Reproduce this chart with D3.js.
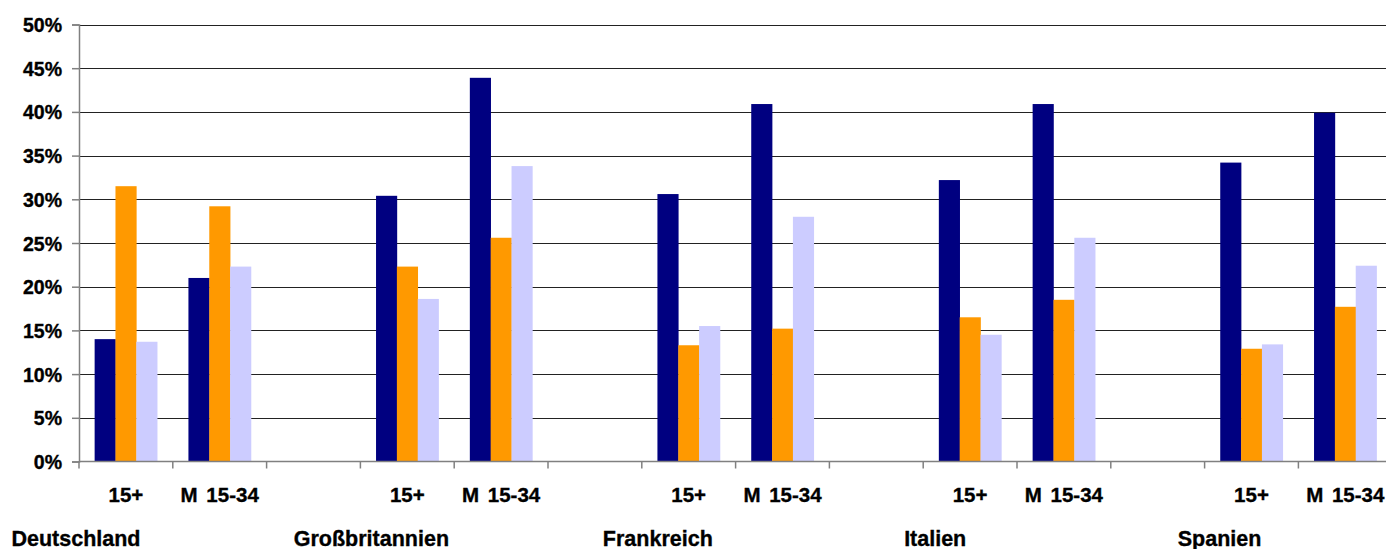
<!DOCTYPE html>
<html>
<head>
<meta charset="utf-8">
<script src="https://cdn.jsdelivr.net/npm/d3@7"></script>
<style>
  html, body { margin: 0; padding: 0; background: #fff; }
  svg { display: block; font-family: "Liberation Sans", Arial, sans-serif; font-weight: bold; }
  svg text { stroke: #000; stroke-width: 0.35px; fill: #000; }
</style>
</head>
<body>
<svg id="chart" width="1386" height="549"></svg>
<script>
// Countries, age groups and the three value series (percent)
const countries = ["Deutschland", "Großbritannien", "Frankreich", "Italien", "Spanien"];
const ageGroups = ["15+", "M 15-34"];
const seriesNames = ["Reihe 1", "Reihe 2", "Reihe 3"];
const seriesNavy     = [14.0, 21.0, 30.4, 43.9, 30.6, 40.9, 32.2, 40.9, 34.2, 39.9];
const seriesOrange   = [31.5, 29.2, 22.3, 25.6, 13.3, 15.2, 16.5, 18.5, 12.9, 17.7];
const seriesLavender = [13.7, 22.3, 18.6, 33.8, 15.5, 28.0, 14.5, 25.6, 13.4, 22.4];
const yTicks = [0, 5, 10, 15, 20, 25, 30, 35, 40, 45, 50];

const colors = ["#000080", "#FF9900", "#CCCCFF"];
const allSeries = [seriesNavy, seriesOrange, seriesLavender];

// Each country takes three slots: its two age groups and one empty spacer
const slots = [];
countries.forEach((c, ci) => {
  ageGroups.forEach((g, gi) => slots.push({ id: `${ci}-${gi}`, country: c, group: g, idx: ci * 2 + gi }));
  if (ci < countries.length - 1) slots.push({ id: `${ci}-gap`, country: c, group: "", idx: -1 });
});

const svg = d3.select("#chart");
const plotLeft = 79, plotTop = 24.5, plotBottom = 461.5;
const slotWidth = 93.8;
const plotRight = plotLeft + slotWidth * slots.length;

const x = d3.scaleBand().domain(slots.map(d => d.id)).range([plotLeft, plotRight]).padding(0);
const xs = d3.scaleBand().domain(seriesNames).range([0, x.bandwidth()]).paddingInner(0).paddingOuter(0.75);
const y = d3.scaleLinear().domain([0, 50]).range([plotBottom, plotTop]);

// Horizontal gridlines
svg.append("g").selectAll("line").data(yTicks.filter(t => t > 0)).join("line")
  .attr("x1", plotLeft).attr("x2", plotRight)
  .attr("y1", d => Math.round(y(d)) + 0.5).attr("y2", d => Math.round(y(d)) + 0.5)
  .attr("stroke", "#222").attr("stroke-width", 1.2);

// Bars
const barData = [];
slots.filter(s => s.idx >= 0).forEach(s => {
  allSeries.forEach((vals, si) => barData.push({ slot: s.id, series: seriesNames[si], value: vals[s.idx], color: colors[si] }));
});
svg.append("g").selectAll("rect").data(barData).join("rect")
  .attr("x", d => x(d.slot) + xs(d.series))
  .attr("width", xs.bandwidth() + 0.3)
  .attr("y", d => y(d.value))
  .attr("height", d => y(0) - y(d.value))
  .attr("fill", d => d.color);

// Y axis
const yAxis = d3.axisLeft(y).tickValues(yTicks).tickFormat(d => d + "%").tickSize(7).tickPadding(10);
const gy = svg.append("g").attr("transform", `translate(${plotLeft},0)`).call(yAxis);
gy.select(".domain").attr("stroke", "#808080").attr("stroke-width", 1.5);
gy.selectAll(".tick line").attr("stroke", "#808080").attr("stroke-width", 1.5);
gy.selectAll(".tick text").attr("font-size", "19.5px").attr("font-weight", "bold").attr("fill", "#000")
  .attr("font-family", "'Liberation Sans', Arial, sans-serif").attr("dy", "0.36em");

// X axis with ticks at slot boundaries
const gx = svg.append("g");
gx.append("line").attr("x1", plotLeft).attr("x2", plotRight).attr("y1", plotBottom).attr("y2", plotBottom)
  .attr("stroke", "#808080").attr("stroke-width", 1.5);
gx.selectAll("line.tk").data(slots.map(s => x(s.id)).concat([plotRight])).join("line")
  .attr("class", "tk")
  .attr("x1", d => d).attr("x2", d => d).attr("y1", plotBottom).attr("y2", plotBottom + 7)
  .attr("stroke", "#808080").attr("stroke-width", 1.5);

// Age group labels
svg.append("g").selectAll("text").data(slots.filter(s => s.group)).join("text")
  .attr("x", d => x(d.id) + x.bandwidth() / 2)
  .attr("y", 502)
  .attr("text-anchor", "middle")
  .attr("font-size", "20.5px")
  .attr("word-spacing", "3px")
  .text(d => d.group);

// Country labels, sitting under the first age group of each country
const countryLabelNudge = [-3, 11, 16, 12, 15];
svg.append("g").selectAll("text").data(countries).join("text")
  .attr("x", (d, i) => x(`${i}-0`) + countryLabelNudge[i])
  .attr("y", 545.5)
  .attr("text-anchor", "middle")
  .attr("font-size", "21.5px")
  .text(d => d);
</script>
</body>
</html>
